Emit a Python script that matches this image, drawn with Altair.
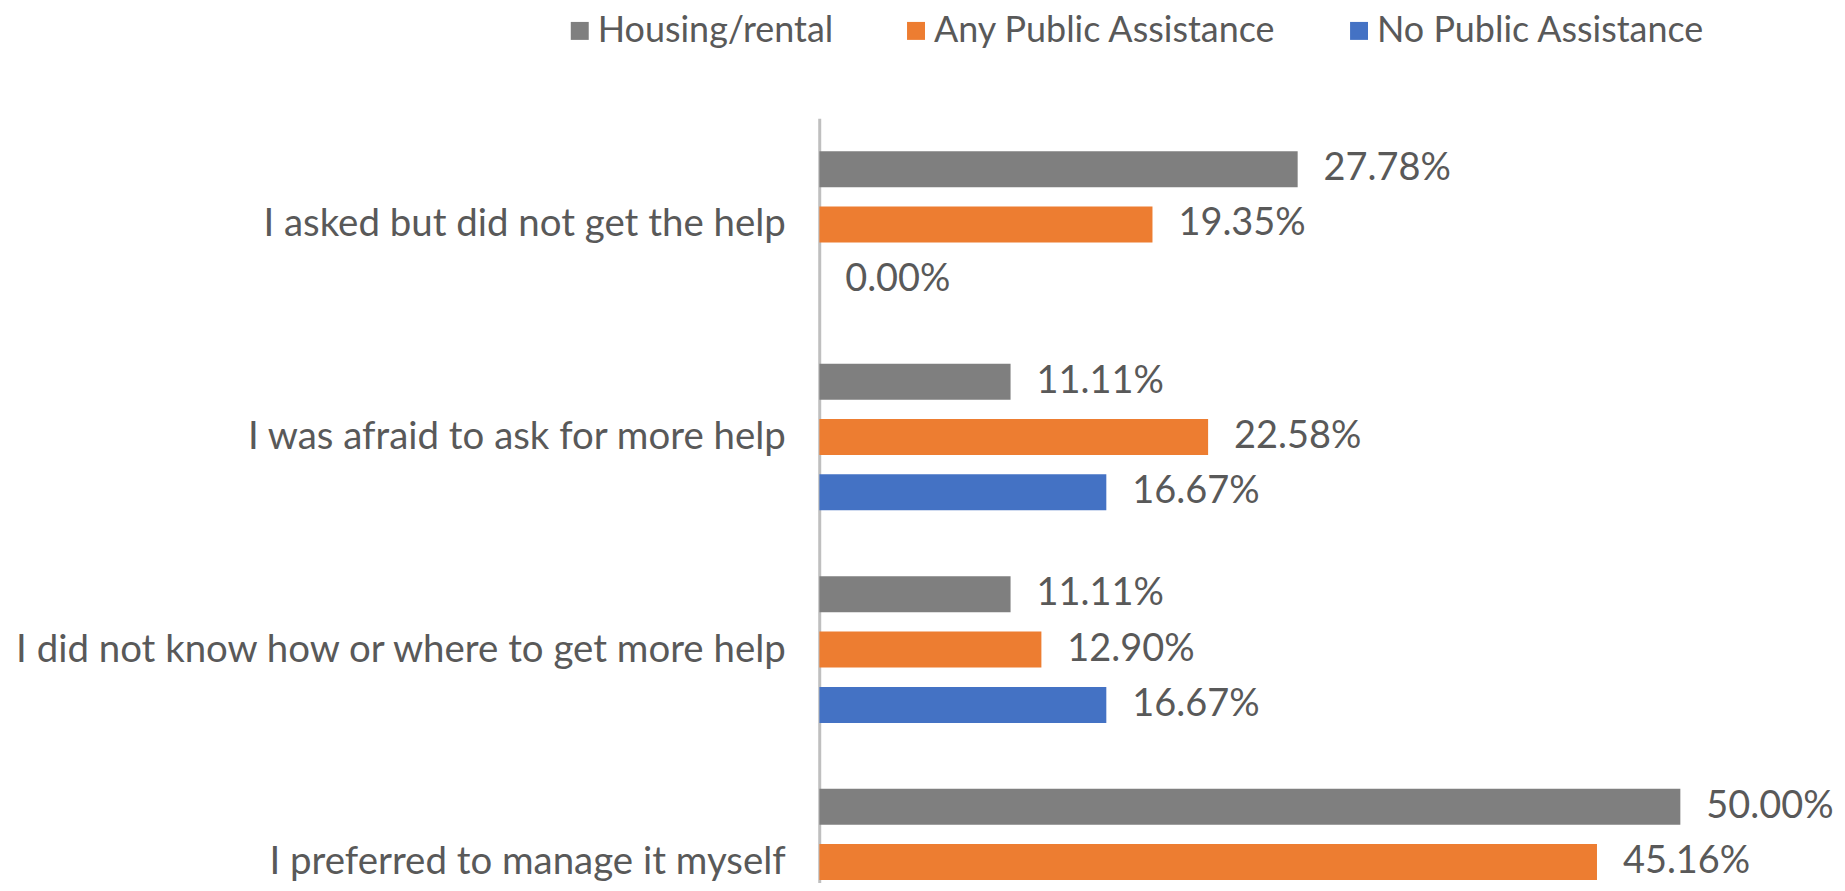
import altair as alt
import pandas as pd

categories = [
    "I asked but did not get the help",
    "I was afraid to ask for more help",
    "I did not know how or where to get more help",
    "I preferred to manage it myself",
]
series = ["Housing/rental", "Any Public Assistance", "No Public Assistance"]
housing = [27.78, 11.11, 11.11, 50.00]
any_pa = [19.35, 22.58, 12.90, 45.16]
no_pa = [0.00, 16.67, 16.67, None]  # last one is cut off in the picture
colors = ["#7F7F7F", "#ED7D31", "#4472C4"]

rows = []
for s, vals in zip(series, [housing, any_pa, no_pa]):
    for c, v in zip(categories, vals):
        if v is None:
            continue
        rows.append({"category": c, "series": s, "value": v, "label": f"{v:.2f}%"})
df = pd.DataFrame(rows)

FONT = "Lato"
TXT = "#595959"
PX_PER_PCT = 17.26
W = 1020

base = alt.Chart(df).encode(
    y=alt.Y(
        "category:N",
        sort=categories,
        scale=alt.Scale(range=[0, 852], paddingInner=0.31, paddingOuter=0.155),
        axis=alt.Axis(
            title=None,
            labelFont=FONT,
            labelFontSize=38.5,
            labelColor=TXT,
            labelPadding=34,
            labelLimit=0,
            ticks=False,
            grid=False,
            domainColor="#BFBFBF",
            domainWidth=3,
        ),
    ),
    yOffset=alt.YOffset(
        "series:N", sort=series, scale=alt.Scale(domain=series, paddingInner=0.35, paddingOuter=0)
    ),
    x=alt.X("value:Q", scale=alt.Scale(domain=[0, W / PX_PER_PCT]), axis=None),
)

bars = base.mark_bar(clip=True).encode(
    color=alt.Color(
        "series:N",
        sort=series,
        scale=alt.Scale(domain=series, range=colors),
        legend=alt.Legend(
            orient="none",
            legendX=-258,
            legendY=-105.5,
            direction="horizontal",
            title=None,
            symbolType="square",
            symbolSize=324,
            symbolStrokeWidth=0,
            labelFont=FONT,
            labelFontSize=36,
            labelColor=TXT,
            labelLimit=0,
            labelOffset=0,
            columnPadding=64,
            padding=0,
        ),
    )
)

labels = base.mark_text(
    align="left", baseline="middle", dx=26, font=FONT, fontSize=38, color=TXT
).encode(text="label:N")

chart = (
    (bars + labels)
    .properties(
        width=W,
        height=765,
        padding={"left": 813, "top": 109.5, "right": 0, "bottom": 0},
        autosize=alt.AutoSizeParams(type="none"),
        background="white",
    )
    .configure_view(stroke=None)
)

chart.save("out.html", embed_options={"renderer": "svg", "actions": False})
